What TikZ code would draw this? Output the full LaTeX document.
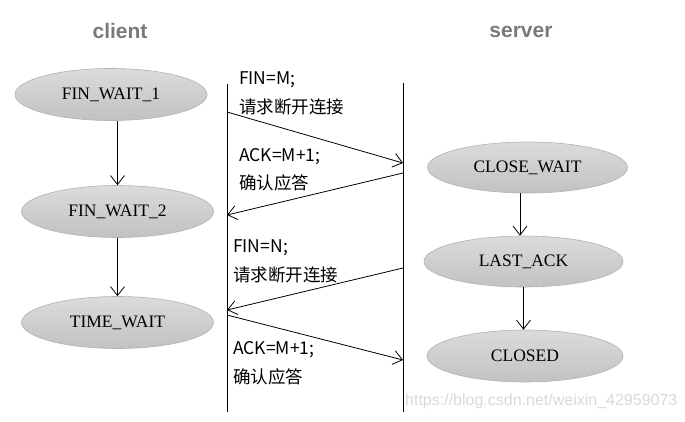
\documentclass[tikz,border=0pt]{standalone}
\usepackage{fontspec}
\setmainfont{Liberation Serif}
\newfontfamily\cjk{Noto Sans CJK SC}
\newfontfamily\arialf{Liberation Sans}
\usetikzlibrary{shapes.geometric,arrows.meta}
\begin{document}
\begin{tikzpicture}[x=1pt,y=-1pt,
  state/.style={ellipse,inner sep=0pt,minimum width=192pt,minimum height=52pt,
    top color=black!14,bottom color=black!24,draw=black!30,line width=0.6pt,
    font=\fontsize{17.5}{20}\selectfont},
  msg/.style={anchor=west,inner sep=0pt,font=\cjk\fontsize{17.5}{20}\selectfont},
  title/.style={font=\arialf\bfseries\fontsize{21}{24}\selectfont,text=black!52},
  flow/.style={line width=0.8pt,-{Straight Barb[length=9pt,width=14pt]}},
  life/.style={line width=0.8pt}]
\useasboundingbox (0,0) rectangle (685,421);
% titles
\node[title] (tc) at (120,31) {client};
\node[title] (ts) at (521,32) {server};
% states
\node[state] (fw1) at (111,94.5) {FIN\_WAIT\_1};
\node[state] (fw2) at (117.5,211.5) {FIN\_WAIT\_2};
\node[state] (tw) at (117.5,322.5) {TIME\_WAIT};
\node[state,minimum width=200pt,minimum height=51pt] (cw) at (527.5,167.5) {CLOSE\_WAIT};
\node[state,minimum width=199pt,minimum height=51pt] (la) at (523.5,261.5) {LAST\_ACK};
\node[state,minimum width=196pt,minimum height=52pt] (cd) at (525,356) {CLOSED};
% state transitions
\draw[flow] (fw1.south -| fw2) -- (fw2.north);
\draw[flow] (fw2) -- (tw);
\draw[flow] (cw.south -| 520,0) -- (la.north -| 520,0);
\draw[flow] (la.south) -- (la.south |- cd.north);
% lifelines
\coordinate (clt) at (227,84);
\coordinate (clb) at (227,412);
\coordinate (svt) at (403,83);
\coordinate (svb) at (403,412);
\draw[life] (clt) -- (clb);
\draw[life] (svt) -- (svb);
% message points
\coordinate (m1a) at (227,112);
\coordinate (m1b) at (403,163);
\coordinate (m2a) at (403,173);
\coordinate (m2b) at (227,215);
\coordinate (m3a) at (403,268);
\coordinate (m3b) at (227,310);
\coordinate (m4a) at (227,315);
\coordinate (m4b) at (403,360);
\draw[flow] (m1a) -- (m1b);
\draw[flow] (m2a) -- (m2b);
\draw[flow] (m3a) -- (m3b);
\draw[flow] (m4a) -- (m4b);
% message labels
\node[msg] (l1a) at (239,80) {FIN=M;};
\node[msg] (l1b) at (239,107) {请求断开连接};
\node[msg] (l2a) at (239,157) {ACK=M+1;};
\node[msg] (l2b) at (239,183) {确认应答};
\node[msg] (l3a) at (233,248) {FIN=N;};
\node[msg] (l3b) at (233,275) {请求断开连接};
\node[msg] (l4a) at (233,350) {ACK=M+1;};
\node[msg] (l4b) at (233,377) {确认应答};
% watermark
\node[anchor=west,inner sep=0pt,text=black!15,font=\arialf\fontsize{16}{18}\selectfont] (wm) at (405,401) {https://blog.csdn.net/weixin\_42959073};
\end{tikzpicture}
\end{document}
